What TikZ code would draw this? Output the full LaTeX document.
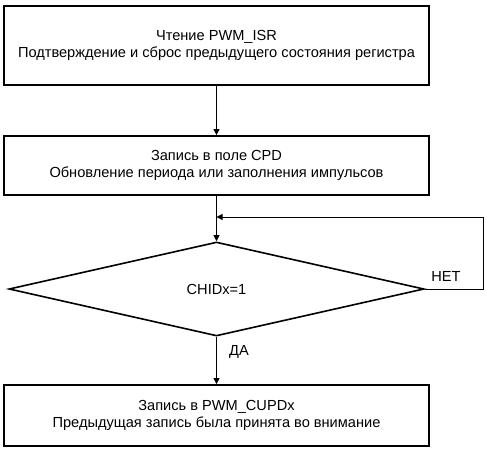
\documentclass[tikz,border=0pt]{standalone}
\usepackage{fontspec}
\setmainfont{Liberation Sans}
\usetikzlibrary{arrows.meta,shapes.geometric}
\begin{document}
\begin{tikzpicture}[x=1pt,y=-1pt,
  blk/.style={draw,line width=1.8pt,minimum width=425pt,align=center,inner sep=0pt,font=\fontsize{14.6}{17.5}\selectfont},
  dec/.style={draw,line width=1.6pt,diamond,minimum width=415pt,minimum height=94pt,inner sep=0pt,aspect=4.4,font=\fontsize{14.6}{17.5}\selectfont},
  conn/.style={line width=1pt,-{Triangle[length=6pt,width=6pt]}},
  lbl/.style={font=\fontsize{14.6}{17.5}\selectfont,inner sep=0pt}]
\useasboundingbox (0,0) rectangle (486,452);
\node[blk,minimum height=79pt] (b1) at (216.5,45.5) {Чтение PWM\_ISR\\Подтверждение и сброс предыдущего состояния регистра};
\node[blk,minimum height=59pt] (b2) at (216.5,165.5) {Запись в поле CPD\\Обновление периода или заполнения импульсов};
\node[dec] (d) at (216.5,289) {CHIDx=1};
\node[blk,minimum height=61pt] (b3) at (216.5,415.5) {Запись в PWM\_CUPDx\\Предыдущая запись была принята во внимание};
\coordinate (j) at (216.5,217);
\coordinate (r) at (483,289);
\coordinate (rt) at (483,217);
\draw[conn] (b1.south) -- (b2.north);
\draw[conn] (b2.south) -- (d.north);
\draw[conn] (d.east) -- (r) -- (rt) -- (j);
\draw[conn] (d.south) -- (b3.north);
\node[lbl] (no) at (446,276) {НЕТ};
\node[lbl] (yes) at (239,352) {ДА};
\end{tikzpicture}
\end{document}
